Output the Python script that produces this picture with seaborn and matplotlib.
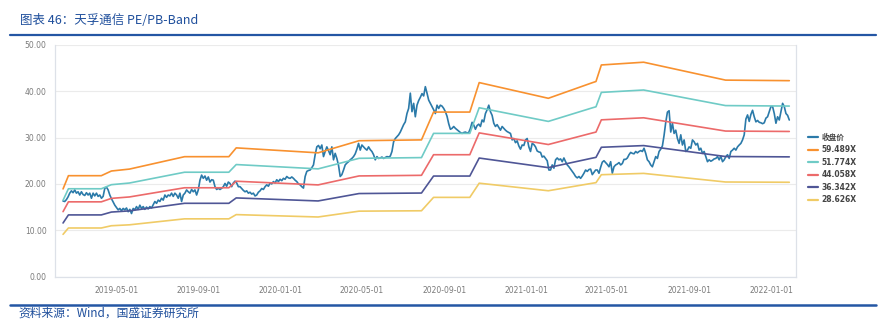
import numpy as np
import pandas as pd
import matplotlib
matplotlib.use("Agg")
import matplotlib.pyplot as plt
import matplotlib.dates as mdates
from matplotlib.lines import Line2D
import seaborn as sns

# ---------------- data ----------------
price_start = "2019-02-11"
price_end = "2022-01-28"
close_price = [
    16.3, 16.2, 16.6, 17.2, 18.0, 18.5, 18.1, 18.7, 18.0, 18.3,
    17.6, 18.3, 17.7, 17.5, 18.1, 17.6, 18.0, 16.9, 18.0, 17.4,
    18.0, 17.3, 17.6, 16.9, 17.3, 19.05, 19.3, 18.7, 17.6, 16.8,
    16.1, 15.4, 14.9, 14.4, 14.7, 14.2, 14.7, 14.4, 14.8, 14.0,
    14.5, 13.6, 14.7, 14.4, 15.1, 14.5, 15.4, 14.7, 15.1, 14.5,
    15.0, 14.6, 15.1, 14.8, 15.5, 16.2, 15.8, 16.5, 16.2, 16.9,
    16.5, 17.6, 17.1, 17.6, 17.4, 18.0, 17.3, 18.0, 17.6, 16.9,
    18.0, 16.2, 17.6, 18.0, 18.7, 18.3, 18.0, 18.8, 18.3, 18.7,
    17.6, 18.7, 20.8, 21.9, 21.2, 21.7, 20.8, 21.5, 20.4, 20.9,
    20.8, 19.4, 18.8, 19.05, 18.8, 19.05, 19.4, 20.1, 19.5, 20.4,
    20.1, 19.4, 20.2, 20.6, 20.2, 19.4,
    19.4, 19.0, 18.6, 18.3, 18.5, 18.0, 18.2, 17.8, 18.0, 17.4,
    17.6, 18.2, 18.5, 19.0, 18.8, 19.4, 19.8, 19.5, 20.2, 20.0,
    20.5, 20.2, 20.9, 20.5, 21.0, 20.7, 21.2, 21.0, 21.6, 21.3,
    21.2, 21.5, 21.2, 20.8, 20.5, 20.0, 19.8, 19.4, 19.1, 21.6,
    22.7, 22.9, 23.0, 23.5, 24.1, 26.3, 28.0, 28.3, 27.6, 28.4,
    25.9, 27.0, 28.0, 27.2, 26.3, 28.0, 25.2, 26.6, 25.5, 24.0,
    21.6, 22.0, 23.0, 24.1, 24.5, 24.8, 25.2, 25.5, 25.9, 26.5,
    27.5, 28.75, 27.3, 28.4, 28.0, 27.6, 27.3, 28.0, 27.4, 27.0,
    26.3, 25.2, 25.9, 25.5, 25.6, 25.8, 25.5, 25.7, 25.9, 25.8,
    26.0, 27.0, 29.1, 29.8, 30.2, 30.6, 31.2, 32.0, 32.8, 33.4,
    35.2, 36.3, 39.6, 35.6, 37.4, 34.5, 37.0, 38.0, 38.7, 39.5,
    39.0, 41.0, 39.6, 38.1, 37.4, 36.7, 36.0, 35.2, 37.0, 36.3,
    37.0, 36.8, 36.3, 35.6, 34.6, 33.0, 31.8, 32.0, 32.4, 32.0,
    31.7, 31.4, 31.1, 30.9, 31.1, 31.2, 31.0, 31.1, 32.0, 33.3,
    32.7, 31.8, 32.6, 32.9, 32.4, 33.8, 33.4, 35.2, 36.0, 37.0,
    35.6, 34.8, 33.1, 32.4, 32.8, 32.2, 31.6, 32.4, 32.0, 31.6,
    31.3, 31.1, 30.9, 29.5, 29.8, 28.9, 29.3, 28.2, 27.5, 28.4,
    28.3, 29.5, 29.8, 28.0, 27.0, 28.75, 28.5, 28.0, 27.1, 26.9,
    26.8, 25.8, 26.0, 25.5, 25.0, 23.0, 23.0, 24.1, 23.4, 25.2,
    25.6, 25.2, 25.4, 24.8, 25.6, 24.8, 24.1, 23.7, 23.2, 22.7,
    22.2, 21.6, 21.3, 21.6, 21.2, 21.7, 22.3, 23.0, 22.7, 23.1,
    23.2, 22.0, 22.5, 23.0, 23.0, 22.3, 23.6, 24.7, 25.0, 24.6,
    24.2, 23.7, 24.8, 22.3, 23.7, 24.1, 24.3, 24.6,
    24.1, 24.4, 25.3, 25.3, 25.6, 26.3, 26.8, 26.6, 26.5, 27.0,
    26.7, 27.0, 27.2, 27.0, 27.7, 26.6, 25.2, 24.8, 24.1, 23.7,
    24.8, 25.9, 25.5, 27.0, 27.5, 28.2, 30.5, 33.3, 35.5, 35.8,
    31.2, 33.1, 30.9, 31.6, 29.8, 28.75, 30.6, 28.4, 29.5, 27.0,
    27.3, 28.0, 27.7, 29.5, 29.1, 28.4, 28.75, 27.3, 27.7, 26.6,
    27.0, 25.9, 24.8, 25.2, 24.9, 25.1, 25.4, 25.5, 25.9, 25.2,
    26.0, 24.8, 25.2, 25.9, 26.3, 25.5, 27.0, 27.3, 27.7, 27.3,
    28.0, 28.4, 28.75, 29.5, 30.6, 34.0, 34.9, 33.5, 35.0, 35.9,
    34.5, 33.4, 33.7, 33.3, 33.2, 33.0, 33.2, 34.2, 34.5, 35.6,
    36.7, 36.7, 35.2, 33.1, 34.5, 33.8, 35.6, 37.4, 36.7, 35.2,
    34.8, 33.8,
]

band_dates = [
    "2019-02-11", "2019-02-19", "2019-04-09", "2019-04-24", "2019-05-21",
    "2019-08-11", "2019-10-16", "2019-10-27", "2020-02-26", "2020-04-27",
    "2020-07-29", "2020-08-16", "2020-10-09", "2020-10-23", "2021-02-03",
    "2021-04-10", "2021-04-15", "2021-04-23", "2021-06-25", "2021-10-25",
    "2022-01-28",
]
eps_ttm = [
    0.318, 0.366, 0.366, 0.383, 0.390,
    0.435, 0.435, 0.467, 0.449, 0.493,
    0.496, 0.597, 0.597, 0.704, 0.647,
    0.704, 0.708, 0.768, 0.778, 0.713,
    0.711,
]
pe_multiples = [59.489, 51.774, 44.058, 36.342, 28.626]
band_labels = ["59.489X", "51.774X", "44.058X", "36.342X", "28.626X"]
price_label = "收盘价"

x_ticks = ["2019-05-01", "2019-09-01", "2020-01-01", "2020-05-01", "2020-09-01",
           "2021-01-01", "2021-05-01", "2021-09-01", "2022-01-01"]
y_ticks = [0, 10, 20, 30, 40, 50]

series_colors = {
    "收盘价": "#2b7aa9",
    "59.489X": "#f8912f",
    "51.774X": "#6fcbc6",
    "44.058X": "#ec6a6a",
    "36.342X": "#4f5696",
    "28.626X": "#f0cb66",
}

# ---------------- build long table ----------------
p_dates = pd.date_range(price_start, price_end, periods=len(close_price))
frames = [pd.DataFrame({"date": p_dates, "value": close_price, "series": price_label})]
b_dates = pd.to_datetime(band_dates)
for m, lab in zip(pe_multiples, band_labels):
    frames.append(pd.DataFrame({"date": b_dates,
                                "value": np.array(eps_ttm) * m,
                                "series": lab}))
df = pd.concat(frames, ignore_index=True)
hue_order = [price_label] + band_labels

# ---------------- plot ----------------
sns.set_style("white")
plt.rcParams["font.family"] = ["DejaVu Sans", "Noto Sans CJK SC"]

W, H = 886, 322
fig = plt.figure(figsize=(W / 100, H / 100), dpi=100)
ax = fig.add_axes([55 / W, 1 - 276.5 / H, (796 - 55) / W, (276.5 - 45) / H])

sns.lineplot(data=df, x="date", y="value", hue="series", hue_order=hue_order,
             palette=series_colors, estimator=None, sort=False, linewidth=1.2,
             ax=ax)

ax.set_xlim(pd.Timestamp("2019-01-30"), pd.Timestamp("2022-02-07"))
ax.set_ylim(0, 50)
ax.set_yticks(y_ticks)
ax.yaxis.set_major_formatter(matplotlib.ticker.FormatStrFormatter("%.2f"))
ax.set_xticks(pd.to_datetime(x_ticks))
ax.xaxis.set_major_formatter(mdates.DateFormatter("%Y-%m-%d"))
ax.set_xlabel("")
ax.set_ylabel("")

ax.grid(axis="y", color="#ebebeb", linewidth=0.8)
ax.grid(axis="x", visible=False)
ax.set_axisbelow(True)
for s in ["left", "bottom", "right"]:
    ax.spines[s].set_color("#dde1e8")
    ax.spines[s].set_linewidth(0.9)
ax.spines["top"].set_visible(False)

ax.tick_params(axis="y", length=0, pad=6, labelsize=5.5, labelcolor="#7a7a7a")
ax.tick_params(axis="x", length=3, width=0.8, color="#dde1e8", pad=4,
               labelsize=5.5, labelcolor="#7a7a7a")

handles, labels = ax.get_legend_handles_labels()
leg = ax.legend(handles, labels, loc="upper left",
                bbox_to_anchor=(808 / W, 1 - 133 / H), bbox_transform=fig.transFigure,
                frameon=False, handlelength=1.3, handletextpad=0.5,
                labelspacing=0.45, borderpad=0, borderaxespad=0,
                prop={"weight": "bold", "size": 5.5})
for t in leg.get_texts():
    t.set_color("#444444")
for l in leg.get_lines():
    l.set_linewidth(1.6)

# header / footer
blue = "#1f4f9c"
fig.text(20 / W, 1 - 20.5 / H, "图表 46：天孚通信 PE/PB-Band", fontsize=9, color=blue,
         family=["Noto Sans CJK SC", "DejaVu Sans"], va="center", ha="left")
fig.add_artist(Line2D([10 / W, 876 / W], [1 - 34.5 / H, 1 - 34.5 / H],
                      transform=fig.transFigure, color="#2456a4", linewidth=1.6))
fig.add_artist(Line2D([10 / W, 876 / W], [1 - 304.5 / H, 1 - 304.5 / H],
                      transform=fig.transFigure, color="#2456a4", linewidth=1.8))
fig.text(18 / W, 1 - 313.5 / H, "资料来源：Wind，国盛证券研究所", fontsize=8.5, color=blue,
         family=["Noto Sans CJK SC", "DejaVu Sans"], va="center", ha="left")

fig.savefig("out.png", dpi=100)
